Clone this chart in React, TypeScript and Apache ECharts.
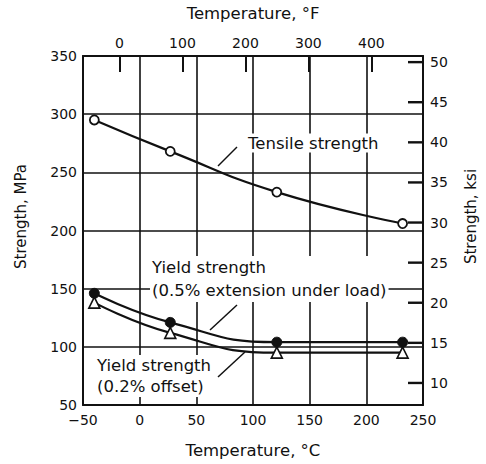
import React, { useEffect, useRef } from "react";
import * as echarts from "echarts";

// Data
const tempC = [-40, 27, 121, 232];
const tensileMPa = [295, 268, 233, 206];
const yield05MPa = [146, 121, 104, 104];
const yield02MPa = [138, 112, 95, 95];

const fTicks = [0, 100, 200, 300, 400];
const ksiTicks = [10, 15, 20, 25, 30, 35, 40, 45, 50];

const C_MIN = -50;
const C_MAX = 250;
const MPA_MIN = 50;
const MPA_MAX = 350;
const MPA_PER_KSI = 6.894757;

const INK = "#111";
const FONT = "DejaVu Sans";

export default function App() {
  const ref = useRef<HTMLDivElement>(null);

  useEffect(() => {
    if (!ref.current) return;
    const chart = echarts.init(ref.current, undefined, { renderer: "svg" });

    const toPairs = (ys: number[]) => tempC.map((t, i) => [t, ys[i]]);
    const labelStyle = { color: INK, fontFamily: FONT, fontSize: 14 };
    const nameStyle = { color: INK, fontFamily: FONT, fontSize: 16.5 };
    const frame = { show: true, onZero: false, lineStyle: { color: INK, width: 2 } };

    const option: any = {
      animation: false,
      backgroundColor: "#fff",
      grid: { left: 83, right: 56, top: 56, bottom: 59, containLabel: false },
      xAxis: [
        {
          type: "value",
          position: "bottom",
          min: C_MIN,
          max: C_MAX,
          interval: 50,
          name: "Temperature, °C",
          nameLocation: "middle",
          nameGap: 37,
          nameTextStyle: nameStyle,
          axisLine: frame,
          axisTick: { show: false },
          axisLabel: { ...labelStyle, margin: 8, formatter: (v: number) => (v < 0 ? "\u2212" + Math.abs(v) : String(v)) },
          splitLine: { show: true, lineStyle: { color: INK, width: 1.6 } },
        },
        {
          type: "value",
          position: "top",
          min: C_MIN * 1.8 + 32,
          max: C_MAX * 1.8 + 32,
          name: "Temperature, °F",
          nameLocation: "middle",
          nameGap: 34,
          nameTextStyle: nameStyle,
          axisLine: frame,
          axisTick: { show: true, inside: true, length: 16, customValues: fTicks, lineStyle: { color: INK, width: 2 } },
          axisLabel: { ...labelStyle, margin: 6, customValues: fTicks },
          splitLine: { show: false },
        },
      ],
      yAxis: [
        {
          type: "value",
          position: "left",
          min: MPA_MIN,
          max: MPA_MAX,
          interval: 50,
          name: "Strength, MPa",
          nameLocation: "middle",
          nameRotate: 90,
          nameGap: 55,
          nameTextStyle: { ...nameStyle, fontSize: 15, padding: [0, 0, 0, 28] },
          axisLine: frame,
          axisTick: { show: false },
          axisLabel: { ...labelStyle, margin: 6 },
          splitLine: { show: true, lineStyle: { color: INK, width: 1.6 } },
        },
        {
          type: "value",
          position: "right",
          min: MPA_MIN / MPA_PER_KSI,
          max: MPA_MAX / MPA_PER_KSI,
          name: "Strength, ksi",
          nameLocation: "middle",
          nameRotate: 90,
          nameGap: 40,
          nameTextStyle: { ...nameStyle, fontSize: 15, padding: [0, 0, 0, 28] },
          axisLine: frame,
          axisTick: { show: false },
          axisLabel: { ...labelStyle, margin: 7, customValues: ksiTicks },
          splitLine: { show: false },
        },
      ],
      series: [
        {
          name: "ksi ticks",
          type: "custom",
          xAxisIndex: 0,
          yAxisIndex: 1,
          data: ksiTicks.map((v) => [C_MAX, v]),
          renderItem: (_p: any, api: any) => {
            const p = api.coord([api.value(0), api.value(1)]);
            return {
              type: "line",
              shape: { x1: p[0] - 15, y1: p[1], x2: p[0], y2: p[1] },
              style: { stroke: INK, lineWidth: 2.4 },
            };
          },
        },
        {
          name: "Tensile strength",
          type: "line",
          xAxisIndex: 0,
          yAxisIndex: 0,
          data: toPairs(tensileMPa),
          smooth: 0.5,
          symbol: "circle",
          symbolSize: 9,
          lineStyle: { color: INK, width: 2.2 },
          itemStyle: { color: "#fff", borderColor: INK, borderWidth: 1.8 },
          z: 5,
        },
        {
          name: "Yield strength (0.5% extension under load)",
          type: "line",
          xAxisIndex: 0,
          yAxisIndex: 0,
          data: toPairs(yield05MPa),
          smooth: 0.5,
          symbol: "circle",
          symbolSize: 10,
          lineStyle: { color: INK, width: 2.2 },
          itemStyle: { color: INK, borderColor: INK, borderWidth: 1 },
          z: 5,
        },
        {
          name: "Yield strength (0.2% offset)",
          type: "line",
          xAxisIndex: 0,
          yAxisIndex: 0,
          data: toPairs(yield02MPa),
          smooth: 0.5,
          symbol: "triangle",
          symbolSize: 11,
          lineStyle: { color: INK, width: 2.2 },
          itemStyle: { color: "#fff", borderColor: INK, borderWidth: 1.6 },
          z: 6,
        },
      ],
      graphic: [
        {
          type: "text",
          z: 100,
          x: 246,
          y: 143,
          style: {
            text: "Tensile strength",
            fill: INK,
            font: `16.5px "${FONT}"`,
            verticalAlign: "middle",
            backgroundColor: "#fff",
            padding: [1, 2],
          },
        },
        { type: "line", z: 100, shape: { x1: 237, y1: 147, x2: 218, y2: 166 }, style: { stroke: INK, lineWidth: 1.5 } },
        {
          type: "text",
          z: 100,
          x: 150,
          y: 279,
          style: {
            text: "Yield strength\n(0.5% extension under load)",
            fill: INK,
            font: `16.5px "${FONT}"`,
            lineHeight: 23,
            verticalAlign: "middle",
            backgroundColor: "#fff",
            padding: [0, 2],
          },
        },
        { type: "line", z: 100, shape: { x1: 237, y1: 305, x2: 210, y2: 330 }, style: { stroke: INK, lineWidth: 1.5 } },
        {
          type: "text",
          z: 100,
          x: 95,
          y: 376,
          style: {
            text: "Yield strength\n(0.2% offset)",
            fill: INK,
            font: `16.5px "${FONT}"`,
            lineHeight: 21,
            verticalAlign: "middle",
            backgroundColor: "#fff",
            padding: [0, 2],
          },
        },
        { type: "line", z: 100, shape: { x1: 218, y1: 377, x2: 245, y2: 352 }, style: { stroke: INK, lineWidth: 1.5 } },
      ],
    };

    chart.setOption(option);
    return () => chart.dispose();
  }, []);

  return (
    <div
      ref={ref}
      style={{ position: "fixed", left: 0, top: 0, width: 486, height: 464, background: "#fff" }}
    />
  );
}
